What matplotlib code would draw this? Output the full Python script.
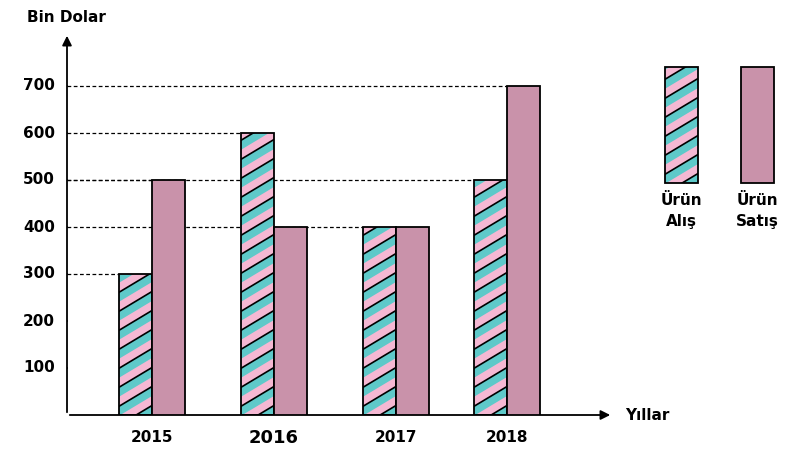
import matplotlib.pyplot as plt
from matplotlib.patches import Rectangle, Polygon

years = ["2015", "2016", "2017", "2018"]
alis = [300, 600, 400, 500]
satis = [500, 400, 400, 700]
yticks = [100, 200, 300, 400, 500, 600, 700]

PINK = "#f5b8d3"
TEAL = "#5ec9c9"
PURPLE = "#c992aa"

# x in pixels from the y axis, y in value units (0.47 px per unit)
centers = [85, 207, 329, 440]
bw = 33
px_per_unit = 0.47

fig = plt.figure(figsize=(8, 4.66), dpi=100)
ax = fig.add_axes([67 / 800, 51 / 466, 733 / 800, 415 / 466])
ax.set_xlim(0, 733)
ax.set_ylim(0, 415 / px_per_unit)
ax.axis("off")


def striped_box(x0, y0, h):
    rect = Rectangle((x0, y0), bw, h, facecolor=PINK, edgecolor="none", zorder=2)
    ax.add_patch(rect)
    slope = 0.6 / px_per_unit
    period = 19 / px_per_unit
    band = 9.5 / px_per_unit
    k = y0 - slope * bw
    while k < y0 + h + period:
        hi = k + band
        poly = Polygon([(x0, k), (x0 + bw, k + slope * bw),
                        (x0 + bw, hi + slope * bw), (x0, hi)],
                       closed=True, facecolor=TEAL, edgecolor="none", zorder=3)
        ax.add_patch(poly)
        poly.set_clip_path(rect)
        ln, = ax.plot([x0, x0 + bw], [hi, hi + slope * bw], color="black", lw=1.2, zorder=4)
        ln.set_clip_path(rect)
        k += period
    ax.add_patch(Rectangle((x0, y0), bw, h, facecolor="none", edgecolor="black", lw=1.3, zorder=5))


for c, a, s in zip(centers, alis, satis):
    striped_box(c - bw, 0, a)
    ax.bar(c, s, width=bw, align="edge", color=PURPLE, edgecolor="black", lw=1.3, zorder=5)
    ax.plot([0, c - bw], [a, a], color="black", ls=(0, (3, 2)), lw=0.9, zorder=1)
    if s > a:
        ax.plot([0, c], [s, s], color="black", ls=(0, (3, 2)), lw=0.9, zorder=1)

for v in yticks:
    ax.plot([0, -6], [v, v], color="black", lw=1.2)
    ax.text(-12, v, str(v), ha="right", va="center", fontsize=11, fontweight="bold")

ax.annotate("", xy=(0, 382 / px_per_unit), xytext=(0, 0),
            arrowprops=dict(arrowstyle="-|>", color="black", lw=1.3, mutation_scale=14),
            annotation_clip=False)
ax.annotate("", xy=(546, 0), xytext=(0, 0),
            arrowprops=dict(arrowstyle="-|>", color="black", lw=1.3, mutation_scale=14),
            annotation_clip=False)
ax.text(-40, 398 / px_per_unit, "Bin Dolar", ha="left", va="center", fontsize=11, fontweight="bold")
ax.text(558, 0, "Yıllar", ha="left", va="center", fontsize=11, fontweight="bold")

for c, y in zip(centers, years):
    ax.text(c, -23 / px_per_unit, y, ha="center", va="center", fontweight="bold",
            fontsize=13 if y == "2016" else 11)

leg_y0 = (415 - 183) / px_per_unit
leg_h = 116 / px_per_unit
striped_box(598, leg_y0, leg_h)
ax.add_patch(Rectangle((674, leg_y0), bw, leg_h, facecolor=PURPLE, edgecolor="black", lw=1.3, zorder=5))
ax.text(598 + bw / 2, leg_y0 - 10 / px_per_unit, "Ürün\nAlış", ha="center", va="top",
        fontsize=11, fontweight="bold", linespacing=1.5)
ax.text(674 + bw / 2, leg_y0 - 10 / px_per_unit, "Ürün\nSatış", ha="center", va="top",
        fontsize=11, fontweight="bold", linespacing=1.5)

fig.savefig("out.png", dpi=100)
